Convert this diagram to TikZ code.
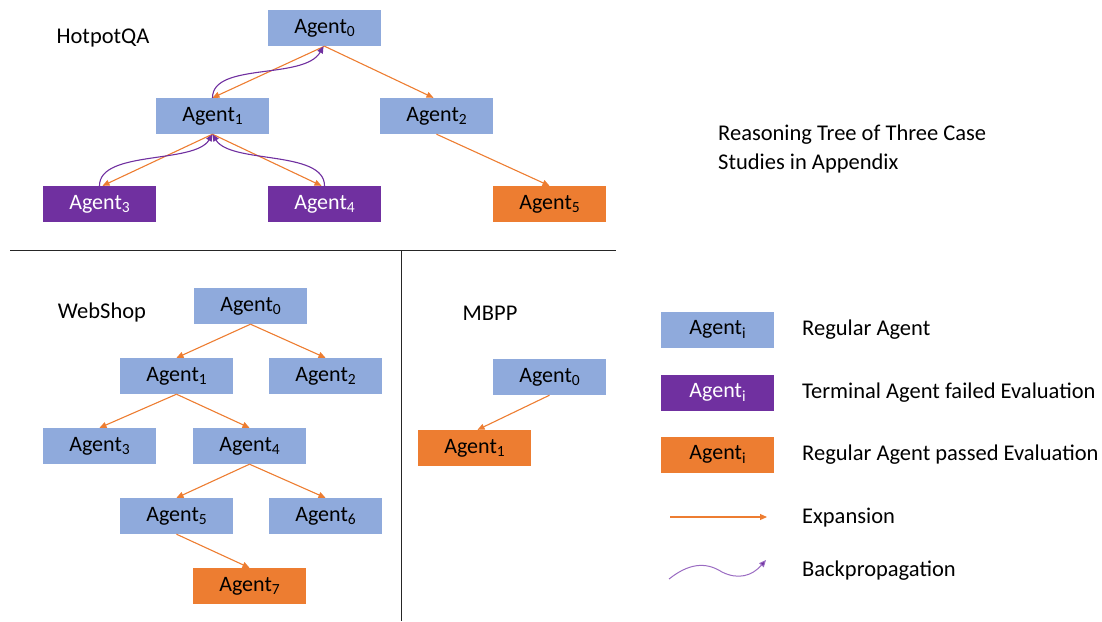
\documentclass[tikz,border=0pt]{standalone}
\usepackage{fontspec}
\setmainfont{Carlito}
\usetikzlibrary{arrows.meta,calc}
\definecolor{agblue}{HTML}{8FAADC}
\definecolor{agpurple}{HTML}{7030A0}
\definecolor{agorange}{HTML}{ED7D31}
\definecolor{bplight}{HTML}{9A6BC2}
\tikzset{
  box/.style={minimum width=113pt, minimum height=36pt, inner sep=0pt, font=\fontsize{22}{24}\selectfont},
  reg/.style={box, fill=agblue, text=black},
  fail/.style={box, fill=agpurple, text=white},
  pass/.style={box, fill=agorange, text=black},
  lbl/.style={font=\fontsize{22.5}{26}\selectfont, inner sep=0pt, text=black},
  expand/.style={draw=agorange, line width=1.1pt, -{Triangle[length=7pt,width=6pt]}},
  backp/.style={draw=agpurple, line width=1.1pt, -{Triangle[length=7pt,width=6pt]}},
  divider/.style={draw=black!85, line width=1pt}
}
\newcommand{\ag}[1]{Agent\raisebox{-0.32ex}{\fontsize{15.5}{16}\selectfont #1}}
\begin{document}
\begin{tikzpicture}[x=1pt,y=-1pt]
\useasboundingbox (0,0) rectangle (1102,621);
% ---------- HotpotQA ----------
\node[lbl] (hlab) at (103,38) {HotpotQA};
\node[reg]  (h0) at (324.5,28)  {\ag{0}};
\node[reg]  (h1) at (212.5,116) {\ag{1}};
\node[reg]  (h2) at (436.5,116) {\ag{2}};
\node[fail] (h3) at (99.5,204)  {\ag{3}};
\node[fail] (h4) at (324.5,204) {\ag{4}};
\node[pass] (h5) at (549.5,204) {\ag{5}};
\draw[expand] (h0.south) -- (h1.north);
\draw[expand] (h0.south) -- ($(h2.north)+(-3,0)$);
\draw[expand] (h1.south) -- ($(h3.north)+(3,0)$);
\draw[expand] (h1.south) -- ($(h4.north)+(-3,0)$);
\draw[expand] (h2.south) -- (h5.north);
\draw[backp] (h1.north) .. controls ($(h1.north)+(0,-36)$) and ($(h0.south)+(-20,34)$) .. ($(h0.south)+(-1,0)$);
\draw[backp] (h3.north) .. controls ($(h3.north)+(0,-36)$) and ($(h1.south)+(-18,30)$) .. (h1.south);
\draw[backp] (h4.north) .. controls ($(h4.north)+(0,-36)$) and ($(h1.south)+(18,30)$) .. (h1.south);
\node[lbl, anchor=west, align=left] (title) at (718,149) {Reasoning Tree of Three Case\\[3pt]Studies in Appendix};
% ---------- dividers ----------
\coordinate (dl) at (10,250);
\coordinate (dr) at (616,250);
\coordinate (vt) at (401,250);
\coordinate (vb) at (401,621);
\draw[divider] (dl) -- (dr);
\draw[divider] (vt) -- (vb);
% ---------- WebShop ----------
\node[lbl] (wlab) at (102,312) {WebShop};
\node[reg]  (w0) at (250.5,306) {\ag{0}};
\node[reg]  (w1) at (176.5,376) {\ag{1}};
\node[reg]  (w2) at (325.5,376) {\ag{2}};
\node[reg]  (w3) at (99.5,446)  {\ag{3}};
\node[reg]  (w4) at (249.5,446) {\ag{4}};
\node[reg]  (w5) at (176.5,516) {\ag{5}};
\node[reg]  (w6) at (325.5,516) {\ag{6}};
\node[pass] (w7) at (249.5,586) {\ag{7}};
\draw[expand] (w0.south) -- (w1.north);
\draw[expand] (w0.south) -- (w2.north);
\draw[expand] (w1.south) -- (w3.north);
\draw[expand] (w1.south) -- (w4.north);
\draw[expand] (w4.south) -- (w5.north);
\draw[expand] (w4.south) -- (w6.north);
\draw[expand] (w5.south) -- (w7.north);
% ---------- MBPP ----------
\node[lbl] (mlab) at (490,313) {MBPP};
\node[reg]  (m0) at (549.5,377) {\ag{0}};
\node[pass] (m1) at (474.5,448) {\ag{1}};
\draw[expand] (m0.south) -- ($(m1.north)+(3,0)$);
% ---------- Legend ----------
\node[reg]  (lg1) at (717.5,329.5) {\ag{i}};
\node[fail] (lg2) at (717.5,392.5) {\ag{i}};
\node[pass] (lg3) at (717.5,454.5) {\ag{i}};
\node[lbl, anchor=west] (lt1) at (802,330) {Regular Agent};
\node[lbl, anchor=west] (lt2) at (802,393) {Terminal Agent failed Evaluation};
\node[lbl, anchor=west] (lt3) at (802,455) {Regular Agent passed Evaluation};
\coordinate (ea) at (670,517);
\coordinate (eb) at (767,517);
\draw[expand] (ea) -- (eb);
\node[lbl, anchor=west] (lt4) at (802,518) {Expansion};
\coordinate (ba) at (669,579);
\coordinate (bm) at (722,572);
\coordinate (bb) at (766,560);
\draw[draw=bplight, line width=1pt, -{Triangle[length=7pt,width=6pt,fill=agpurple]}] (ba) .. controls (688,564) and (705,561) .. (bm) .. controls (738,580) and (752,576) .. (bb);
\node[lbl, anchor=west] (lt5) at (802,571) {Backpropagation};
\end{tikzpicture}
\end{document}
